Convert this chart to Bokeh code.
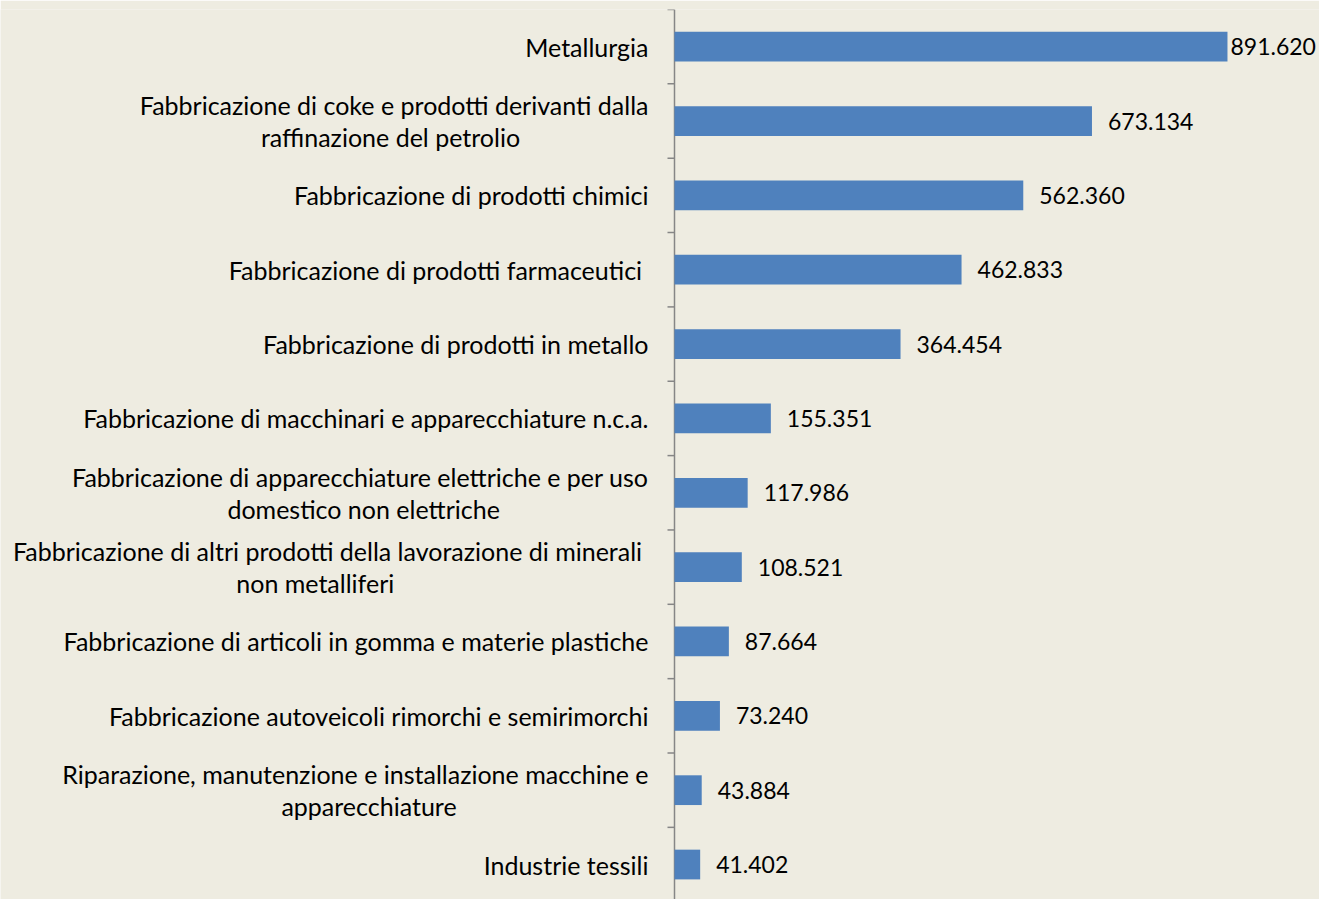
from bokeh.plotting import figure
from bokeh.models import Range1d, ColumnDataSource
from bokeh.core.properties import value
from bokeh.embed import file_html
from bokeh.resources import INLINE

categories = [
    "Metallurgia",
    "Fabbricazione di coke e prodotti derivanti dalla\nraffinazione del petrolio",
    "Fabbricazione di prodotti chimici",
    "Fabbricazione di prodotti farmaceutici ",
    "Fabbricazione di prodotti in metallo",
    "Fabbricazione di macchinari e apparecchiature n.c.a.",
    "Fabbricazione di apparecchiature elettriche e per uso\ndomestico non elettriche",
    "Fabbricazione di altri prodotti della lavorazione di minerali \nnon metalliferi",
    "Fabbricazione di articoli in gomma e materie plastiche",
    "Fabbricazione autoveicoli rimorchi e semirimorchi",
    "Riparazione, manutenzione e installazione macchine e\napparecchiature",
    "Industrie tessili",
]
values = [891620, 673134, 562360, 462833, 364454, 155351,
          117986, 108521, 87664, 73240, 43884, 41402]

FONT = "Lato"
FS_VAL = 23
FS_CAT = 25
AVG_EM = 0.43
BG = "#EEECE1"
BAR = "#4F81BD"
AXIS = "#868686"
X_MAX = 1040000          # value at the right edge of the plot
W, H = 1319, 899
AXIS_PX = 674            # screen position of the value axis
TOP = 9
BAND_PX = 74.35
LINE = 32

n = len(categories)
px_per_unit = (W - AXIS_PX) / X_MAX
x_start = -AXIS_PX / px_per_unit
y_bottom = -0.5 + (H - TOP) / BAND_PX

idx = list(range(n))
labels = [f"{v:,}".replace(",", ".") for v in values]
offsets = [3 if v > 0.8 * X_MAX else 16 for v in values]
src = ColumnDataSource(dict(y=idx, v=values, lab=labels, off=offsets))

p = figure(width=W, height=H, x_range=Range1d(x_start, X_MAX),
           y_range=Range1d(y_bottom, -0.5), output_backend="svg",
           toolbar_location=None, min_border_left=0, min_border_right=0,
           min_border_top=TOP, min_border_bottom=0)
p.background_fill_color = BG
p.border_fill_color = BG
p.outline_line_color = None
p.axis.visible = False
p.grid.visible = False

# value axis line and category tick marks
tick_len = 7 / px_per_unit
bounds = [i - 0.5 for i in range(n + 1)]
p.segment(x0=[0], y0=[-0.5], x1=[0], y1=[y_bottom + 1],
          line_color=AXIS, line_width=1.5)
p.segment(x0=[-tick_len] * len(bounds), y0=bounds, x1=[0] * len(bounds),
          y1=bounds, line_color=AXIS, line_width=1.5)

p.hbar(y="y", left=0, right="v", height=0.4, source=src,
       fill_color=BAR, line_color=None)

p.text(x="v", y="y", text="lab", x_offset="off", source=src,
       text_baseline="middle", text_align="left",
       text_font=value(FONT), text_font_size=f"{FS_VAL}px", text_color="black")

r_txt, r_y, r_yo = [], [], []
c_txt, c_y, c_yo, c_xo = [], [], [], []
for i, cat in enumerate(categories):
    lines = cat.split("\n")
    k = len(lines)
    longest = max(lines, key=len)
    wlong = len(longest) * AVG_EM * FS_CAT
    for j, ln in enumerate(lines):
        yoff = (j - (k - 1) / 2) * LINE
        if ln == longest:
            r_txt.append(ln); r_y.append(i); r_yo.append(yoff)
        else:
            c_txt.append(ln); c_y.append(i); c_yo.append(yoff)
            c_xo.append(-26 - wlong / 2)

p.text(x=[0] * len(r_txt), y=r_y, text=r_txt, x_offset=-26, y_offset=r_yo,
       text_align="right", text_baseline="middle",
       text_font=value(FONT), text_font_size=f"{FS_CAT}px", text_color="black")
p.text(x=[0] * len(c_txt), y=c_y, text=c_txt, x_offset=c_xo, y_offset=c_yo,
       text_align="center", text_baseline="middle",
       text_font=value(FONT), text_font_size=f"{FS_CAT}px", text_color="black")

open("out.html", "w").write(file_html(p, INLINE))
